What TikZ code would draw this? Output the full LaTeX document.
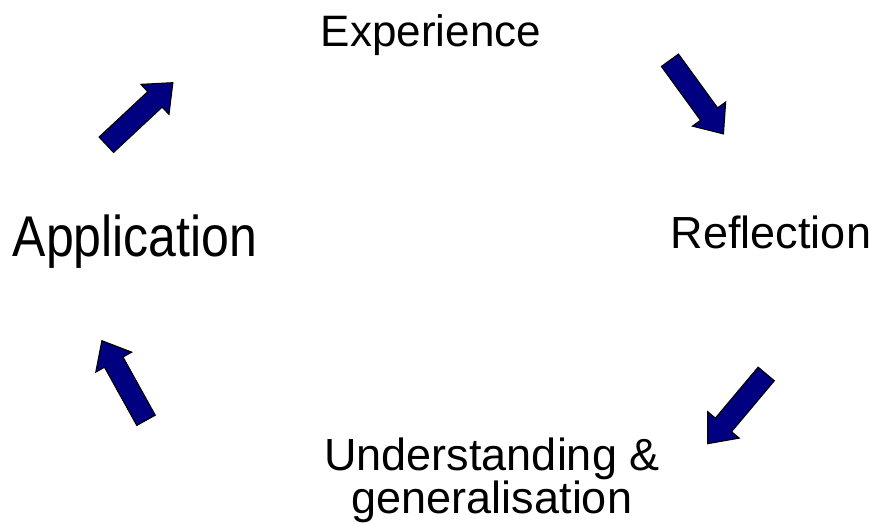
\documentclass[tikz,border=0pt]{standalone}
\usepackage{fontspec}
\setmainfont{Liberation Sans}
\usetikzlibrary{shapes.arrows,positioning}
\definecolor{cyclenavy}{RGB}{0,0,128}

\begin{document}
\begin{tikzpicture}[
			x=1pt,y=-1pt,
			stage/.style={
				anchor=base,
				inner sep=0pt,
				align=center,
				font=\fontsize{45}{40}\selectfont
			},
			blockarrow/.style={
				single arrow,
				draw=black,
				line width=1.1pt,
				fill=cyclenavy,
				inner xsep=0pt,
				inner ysep=10pt,
				minimum width=40pt,
				minimum height=91pt,
				single arrow head extend=10pt,
				single arrow tip angle=80
			}
			]
			\useasboundingbox (0,0) rectangle (880,524);
			
			\node[stage,font=\fontsize{44}{40}\selectfont] (experience) at (431,47) {Experience};
			\node[stage] (reflection) at (771,248) {Reflection};
			\node[stage] (understanding) at (492,513) {Understanding \&\\generalisation};
			\node[stage,font=\fontsize{50}{40}\selectfont] (application) at (135,256) {\scalebox{1}[1.15]{Application}};
			
			\node[blockarrow,rotate=43] (toexp) at (135,118) {};
			\node[blockarrow,rotate=-54] (torefl) at (693,92) {};
			\node[blockarrow,rotate=-130] (tounder) at (741,404) {};
			\node[blockarrow,rotate=119] (toapp) at (127,386) {};
			
		\end{tikzpicture}
\end{document}
